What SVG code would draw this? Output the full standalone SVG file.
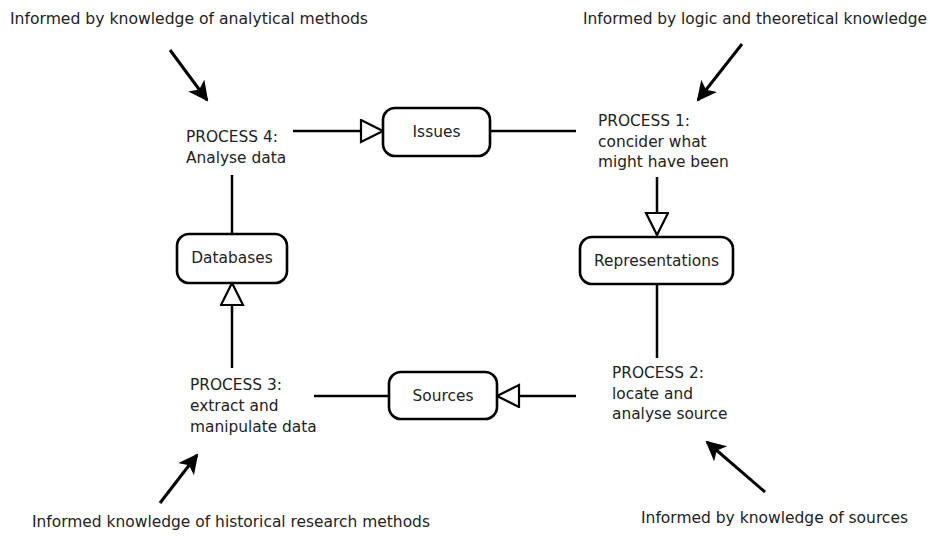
<svg xmlns="http://www.w3.org/2000/svg" width="930" height="536" viewBox="0 0 930 536">
  <defs>
    <style>
      .bg { fill: #ffffff; }
      .box { fill: #ffffff; stroke: #000000; stroke-width: 2.6; }
      .label { font-family: "DejaVu Sans", "Liberation Sans", sans-serif; font-size: 15.4px; fill: #222222; }
      .center { text-anchor: middle; }
      .note { font-family: "DejaVu Sans Condensed", "DejaVu Sans", "Liberation Sans Narrow", sans-serif; font-stretch: condensed; font-size: 16px; fill: #222222; }
      .flow { fill: none; stroke: #000000; stroke-width: 2.5; }
      .input { fill: none; stroke: #000000; stroke-width: 3; }
    </style>
    <!-- open triangle head for process flow -->
    <marker id="open" markerUnits="userSpaceOnUse" markerWidth="28" markerHeight="28" viewBox="0 0 28 28" refX="24" refY="12" orient="auto">
      <path d="M2,1 L24,12 L2,23 Z" fill="#ffffff" stroke="#000000" stroke-width="2.2"/>
    </marker>
    <!-- solid head for knowledge inputs -->
    <marker id="solid" markerUnits="userSpaceOnUse" markerWidth="24" markerHeight="24" viewBox="0 0 24 24" refX="18" refY="10" orient="auto">
      <path d="M0,0 L20,10 L0,20 L5,10 Z" fill="#000000"/>
    </marker>
  </defs>

  <rect class="bg" x="0" y="0" width="930" height="536"/>

  <!-- connectors -->
  <g id="connectors">
    <path class="flow" d="M293,131 L383,131" marker-end="url(#open)"/>
    <path class="flow" d="M490,131 L576,131"/>
    <path class="flow" d="M657,177 L657,235" marker-end="url(#open)"/>
    <path class="flow" d="M657,285 L657,358"/>
    <path class="flow" d="M576,396 L497,396" marker-end="url(#open)"/>
    <path class="flow" d="M388,396 L314,396"/>
    <path class="flow" d="M232,368 L232,283" marker-end="url(#open)"/>
    <path class="flow" d="M232,234 L232,175"/>

    <path class="input" d="M170,50 L207,100" marker-end="url(#solid)"/>
    <path class="input" d="M742,44 L698,100" marker-end="url(#solid)"/>
    <path class="input" d="M160,503 L197,455" marker-end="url(#solid)"/>
    <path class="input" d="M765,492 L707,442" marker-end="url(#solid)"/>
  </g>

  <!-- boxes -->
  <g id="issues">
    <rect class="box" x="383" y="108" width="107" height="48" rx="12"/>
    <text class="label center" x="436.5" y="137">Issues</text>
  </g>
  <g id="representations">
    <rect class="box" x="580" y="237" width="153" height="47" rx="12"/>
    <text class="label center" x="656.5" y="266">Representations</text>
  </g>
  <g id="sources">
    <rect class="box" x="389" y="372" width="108" height="47" rx="12"/>
    <text class="label center" x="443" y="401">Sources</text>
  </g>
  <g id="databases">
    <rect class="box" x="177" y="234" width="110" height="49" rx="12"/>
    <text class="label center" x="232" y="263">Databases</text>
  </g>

  <!-- processes -->
  <g id="process1">
    <text class="label" x="598" y="126">PROCESS 1:</text>
    <text class="label" x="598" y="147">concider what</text>
    <text class="label" x="598" y="167">might have been</text>
  </g>
  <g id="process2">
    <text class="label" x="612" y="378">PROCESS 2:</text>
    <text class="label" x="612" y="399">locate and</text>
    <text class="label" x="612" y="419">analyse source</text>
  </g>
  <g id="process3">
    <text class="label" x="190" y="390">PROCESS 3:</text>
    <text class="label" x="190" y="411">extract and</text>
    <text class="label" x="190" y="432">manipulate data</text>
  </g>
  <g id="process4">
    <text class="label" x="186" y="142">PROCESS 4:</text>
    <text class="label" x="186" y="163">Analyse data</text>
  </g>

  <!-- knowledge inputs -->
  <g id="note-analytical">
    <text class="note" x="10" y="24" textLength="358" lengthAdjust="spacingAndGlyphs">Informed by knowledge of analytical methods</text>
  </g>
  <g id="note-logic">
    <text class="note" x="583" y="24" textLength="344" lengthAdjust="spacingAndGlyphs">Informed by logic and theoretical knowledge</text>
  </g>
  <g id="note-historical">
    <text class="note" x="32" y="527" textLength="398" lengthAdjust="spacingAndGlyphs">Informed knowledge of historical research methods</text>
  </g>
  <g id="note-sources">
    <text class="note" x="641" y="523" textLength="267" lengthAdjust="spacingAndGlyphs">Informed by knowledge of sources</text>
  </g>
</svg>
